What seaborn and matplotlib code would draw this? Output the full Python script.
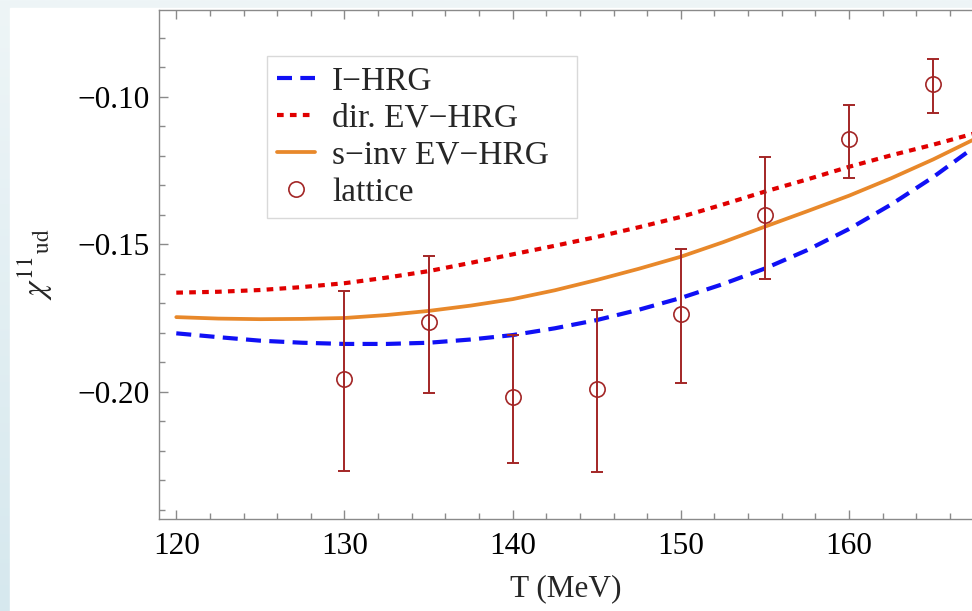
import numpy as np
import matplotlib
matplotlib.use("Agg")
import matplotlib.pyplot as plt
from matplotlib.patches import Rectangle
import seaborn as sns

sns.set_style("ticks")
plt.rcParams['font.family'] = ['Liberation Serif', 'DejaVu Serif']
plt.rcParams['mathtext.fontset'] = 'stix'
plt.rcParams['axes.unicode_minus'] = True

# ---- data ----
T_curve = [120, 122.5, 125, 127.5, 130, 132.5, 135, 137.5, 140, 142.5, 145,
           147.5, 150, 152.5, 155, 157.5, 160, 162.5, 165, 167.5]
i_hrg = [-0.1802, -0.1815, -0.1827, -0.1834, -0.1838, -0.1838, -0.1834, -0.1823,
         -0.1808, -0.1785, -0.1757, -0.1722, -0.1682, -0.1635, -0.1582, -0.1520,
         -0.1448, -0.1365, -0.1272, -0.1168]
dir_ev = [-0.1664, -0.1661, -0.1655, -0.1645, -0.1632, -0.1613, -0.1591, -0.1563,
          -0.1534, -0.1505, -0.1475, -0.1442, -0.1407, -0.1365, -0.1321, -0.1280,
          -0.1237, -0.1198, -0.1162, -0.1123]
sinv_ev = [-0.1747, -0.1752, -0.1754, -0.1753, -0.1750, -0.1740, -0.1726, -0.1708,
           -0.1686, -0.1656, -0.1621, -0.1583, -0.1542, -0.1493, -0.1440, -0.1388,
           -0.1335, -0.1276, -0.1212, -0.1142]

T_lat = [130, 135, 140, 145, 150, 155, 160, 165]
lat_val = [-0.1957, -0.1765, -0.2018, -0.1992, -0.1738, -0.1401, -0.1144, -0.0957]
lat_hi = [-0.1657, -0.1539, -0.1809, -0.1724, -0.1517, -0.1203, -0.1027, -0.0871]
lat_lo = [-0.2268, -0.2005, -0.2241, -0.2274, -0.1972, -0.1618, -0.1275, -0.1055]

x_ticks = [120, 130, 140, 150, 160]
y_ticks = [-0.20, -0.15, -0.10]

W, H = 972, 611
fig = plt.figure(figsize=(W / 100, H / 100), dpi=100)

# slide-like background with light blue gradient and white panel
bg = fig.add_axes([0, 0, 1, 1], zorder=-10)
grad = np.linspace(0, 1, 256).reshape(-1, 1)
bg.imshow(grad, aspect='auto', cmap=matplotlib.colors.LinearSegmentedColormap.from_list(
    'g', ['#eef5f7', '#d6e8ee']), extent=[0, 1, 0, 1], origin='upper')
bg.add_patch(Rectangle((10 / W, 0), 1, (H - 8) / H, color='white', transform=bg.transAxes))
bg.set_xlim(0, 1); bg.set_ylim(0, 1)
bg.axis('off')

left, bottom, top = 159.3, 519.3, 10
axw, axh = W - left, bottom - top
ax = fig.add_axes([left / W, (H - bottom) / H, 1 - left / W, axh / H])
ax.set_facecolor('none')

blue, red, orange, lat_c = '#1010f5', '#e00000', '#e8882a', '#a32626'

sns.lineplot(x=T_curve, y=i_hrg, ax=ax, color=blue, lw=3.0, label='I\u2212HRG')
ax.lines[-1].set_linestyle((0, (3.6, 2.0)))
sns.lineplot(x=T_curve, y=dir_ev, ax=ax, color=red, lw=3.0, label='dir. EV\u2212HRG')
ax.lines[-1].set_linestyle((0, (1.6, 1.5)))
sns.lineplot(x=T_curve, y=sinv_ev, ax=ax, color=orange, lw=2.7, label='s\u2212inv EV\u2212HRG')

lat_val_a = np.array(lat_val)
yerr = [lat_val_a - np.array(lat_lo), np.array(lat_hi) - lat_val_a]
ax.errorbar(T_lat, lat_val, yerr=yerr, fmt='none', ecolor=lat_c, elinewidth=1.4,
            capsize=4.5, capthick=1.4, zorder=4)
ax.plot(T_lat, lat_val, 'o', ms=11, mfc='none', mec=lat_c, mew=1.2,
        label='lattice', zorder=5)

ax.set_xlim(118.99, 167.31)
ax.set_ylim(-0.2433, -0.0705)
ax.set_xticks(x_ticks)
ax.set_yticks(y_ticks)
ax.set_xticklabels([str(v) for v in x_ticks])
ax.set_yticklabels(['\u2212%.2f' % abs(v) for v in y_ticks])
ax.xaxis.set_minor_locator(matplotlib.ticker.MultipleLocator(2))
ax.yaxis.set_minor_locator(matplotlib.ticker.MultipleLocator(0.01))

spine_c = '#8a8a8a'
for s in ['left', 'bottom', 'top']:
    ax.spines[s].set_color(spine_c)
    ax.spines[s].set_linewidth(1.0)
ax.spines['right'].set_visible(False)
ax.tick_params(which='both', direction='in', top=True, right=False, color=spine_c,
               width=1.0, labelsize=22.5, labelcolor='black')
ax.tick_params(which='major', length=6.7)
ax.tick_params(which='minor', length=4.3)
ax.tick_params(axis='y', pad=7)
ax.tick_params(axis='x', pad=9)

ax.set_xlabel('T (MeV)', fontsize=22.5, labelpad=10)
ax.set_ylabel(r'$\chi^{11}{}_{\mathrm{ud}}$', fontsize=24, labelpad=16)

# legend box: x 267..577 px, y 56..220 px
lx0 = (267 - left) / axw
lw_ = (577 - 267) / axw
ly1 = (bottom - 56) / axh
lh = (220 - 56) / axh
leg = ax.legend(loc='upper left', bbox_to_anchor=(lx0, ly1 - lh, lw_, lh), mode='expand',
                borderaxespad=0, fontsize=24, frameon=True, fancybox=False, framealpha=1,
                edgecolor='#d9d9d9', handlelength=1.15, handletextpad=0.5,
                labelspacing=0.2, borderpad=0.3, numpoints=1)
leg.get_frame().set_linewidth(1.0)

fig.savefig('out.png', dpi=100)
